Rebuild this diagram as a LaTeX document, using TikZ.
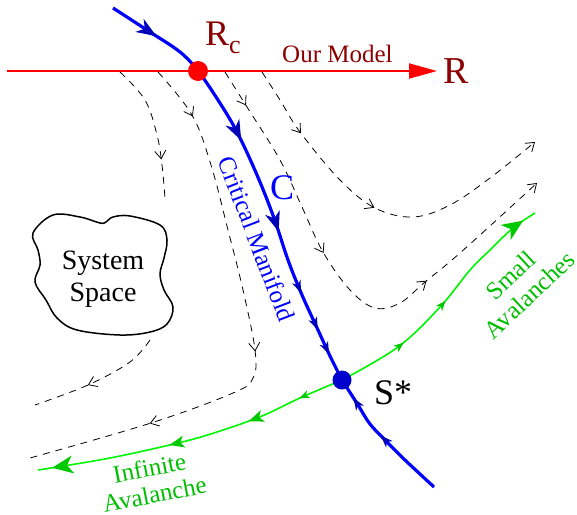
\documentclass[tikz,border=0pt]{standalone}
\usepackage{fontspec}
\setmainfont{Liberation Serif}
\usetikzlibrary{arrows.meta, decorations.markings, positioning}
\definecolor{ModelRed}{RGB}{255, 0, 0}
\definecolor{LabelRed}{RGB}{139, 0, 0}
\definecolor{ManifoldBlue}{RGB}{0, 0, 255}
\definecolor{TipBlue}{RGB}{0, 0, 185}
\definecolor{DotBlue}{RGB}{0, 0, 205}
\definecolor{AvalancheGreen}{RGB}{0, 245, 0}
\definecolor{TipGreen}{RGB}{0, 200, 0}
\definecolor{TextGreen}{RGB}{0, 190, 0}

\tikzset{
  BlueBig/.tip={Stealth[length=20pt, width=15pt, inset=6pt, color=TipBlue]},
  BlueSmall/.tip={Stealth[length=12pt, width=9pt, inset=3.5pt, color=TipBlue]},
  GreenBig/.tip={Stealth[length=21pt, width=18pt, inset=6pt, color=TipGreen]},
  GreenMid/.tip={Stealth[length=15pt, width=12pt, inset=4pt, color=TipGreen]},
  GreenSmall/.tip={Stealth[length=10pt, width=8pt, inset=3pt, color=TipGreen]},
  FlowTip/.tip={Straight Barb[length=8pt, width=11pt, line width=0.8pt]}
}

\begin{document}
\begin{tikzpicture}[x=1pt, y=-1pt,
    flow/.style={black, line width=0.8pt, dash pattern=on 7pt off 6pt},
    manifold/.style={ManifoldBlue, line width=3.2pt},
    avalanche/.style={AvalancheGreen, line width=1.6pt},
    marks/.style={postaction={decorate, decoration={markings, #1}}},
    lbl/.style={inner sep=0pt, align=center, font=\fontsize{25}{27}\selectfont},
    big/.style={inner sep=0pt, font=\fontsize{36}{38}\selectfont}]
  \useasboundingbox (0,0) rectangle (577,514);

  % fixed points
  \coordinate (Rc) at (198,71);
  \coordinate (Sstar) at (342,380);
  \coordinate (axisL) at (7,71);
  \coordinate (axisR) at (437,71);

  % flow lines (dashed)
  \draw[flow, marks={mark=at position 0.72 with {\arrow{FlowTip}}}]
    plot[smooth, tension=0.6] coordinates {(120,72) (145,100) (157,135) (162,165) (165,198)};
  \draw[flow, marks={mark=at position 0.10 with {\arrow{FlowTip}},
                     mark=at position 0.53 with {\arrow{FlowTip}},
                     mark=at position 0.78 with {\arrow{FlowTip}}}]
    plot[smooth, tension=0.6] coordinates {(158,72) (192,115) (211,165) (228,230) (243,290)
      (255,350) (253,378) (233,393) (151,423) (30,458)};
  \draw[flow, -FlowTip, marks={mark=at position 0.08 with {\arrow{FlowTip}},
                     mark=at position 0.42 with {\arrow{FlowTip}},
                     mark=at position 0.70 with {\arrow{FlowTip}}}]
    plot[smooth, tension=0.6] coordinates {(225,72) (247,107) (280,160) (302,207) (323,252)
      (350,290) (375,308) (400,303) (425,282) (460,253) (537,183)};
  \draw[flow, -FlowTip, marks={mark=at position 0.20 with {\arrow{FlowTip}},
                     mark=at position 0.49 with {\arrow{FlowTip}}}]
    plot[smooth, tension=0.6] coordinates {(262,72) (280,100) (300,132) (340,180) (375,208)
      (413,217) (450,205) (490,178) (535,142)};
  \draw[flow, marks={mark=at position 0.58 with {\arrow{FlowTip}}}]
    plot[smooth, tension=0.6] coordinates {(150,340) (130,362) (88,385) (35,405)};

  % system space
  \draw[line width=1.5pt] plot[smooth cycle, tension=0.6] coordinates {(33,233) (53,215) (80,217)
    (100,223) (106,222) (113,217) (130,216) (160,225) (167,240) (164,258) (160,274) (164,290)
    (173,307) (167,324) (150,332) (120,335) (77,330) (57,318) (46,300) (35,282) (40,265) (38,250)};
  \node[lbl, font=\fontsize{28}{32}\selectfont] (system) at (103,279) {System\\Space};

  % avalanches
  \draw[avalanche, marks={mark=at position 0.145 with {\arrow{GreenSmall}},
                          mark=at position 0.32 with {\arrow{GreenMid}},
                          mark=at position 0.58 with {\arrow{GreenMid}},
                          mark=at position 0.955 with {\arrow{GreenBig}}}]
    plot[smooth, tension=0.6] coordinates {(Sstar) (300,398) (262,416) (220,431) (182,442) (110,458) (38,470)};
  \draw[avalanche, marks={mark=at position 0.28 with {\arrow{GreenSmall}},
                          mark=at position 0.51 with {\arrow{GreenSmall}},
                          mark=at position 0.945 with {\arrow{GreenBig}}}]
    plot[smooth, tension=0.6] coordinates {(Sstar) (398,347) (440,307) (470,270) (490,250) (513,228) (535,213)};
  \node[lbl, TextGreen, rotate=11] (infinite) at (152,481) {Infinite\\Avalanche};
  \node[lbl, TextGreen, rotate=43] (small) at (520,285) {Small\\Avalanches};

  % our model
  \draw[ModelRed, line width=1.8pt, -{Triangle[length=28pt, width=15pt]}] (axisL) -- (axisR);
  \node[lbl, LabelRed, anchor=base west] (model) at (282,62) {Our Model};
  \node[big, LabelRed, anchor=base west, font=\fontsize{38}{40}\selectfont] (Rlabel) at (443,83) {R};

  % critical manifold
  \draw[manifold, marks={mark=at position 0.116 with {\arrow{BlueBig}},
                         mark=at position 0.42 with {\arrow{BlueBig}},
                         mark=at position 0.64 with {\arrow{BlueBig}},
                         mark=at position 0.785 with {\arrow{BlueSmall}},
                         mark=at position 0.875 with {\arrow{BlueSmall}},
                         mark=at position 0.935 with {\arrow{BlueSmall}}}]
    plot[smooth, tension=0.6] coordinates {(113,8) (150,32) (180,52) (Rc) (218,100) (237,132)
      (257,175) (274,218) (288,260) (302,295) (318,330) (330,356) (Sstar)};
  \draw[manifold, marks={mark=at position 0.52 with {\arrow{BlueSmall}},
                         mark=at position 0.85 with {\arrow{BlueSmall}}}]
    plot[smooth, tension=0.6] coordinates {(434,487) (405,460) (387,442) (370,424) (358,405) (Sstar)};
  \node[lbl, ManifoldBlue, rotate=-69] (critical) at (257,239) {Critical Manifold};
  \node[big, ManifoldBlue, anchor=base west] (C) at (270,199) {C};

  % fixed point dots
  \fill[ModelRed] (Rc) circle[radius=10pt];
  \fill[DotBlue] (Sstar) circle[radius=9.5pt];
  \node[big, LabelRed, anchor=base west] (Rclabel) at (205,45) {R\raisebox{-8pt}{\fontsize{26}{26}\selectfont c}};
  \node[big, anchor=base west] (Slabel) at (374,404) {S*};
\end{tikzpicture}
\end{document}
